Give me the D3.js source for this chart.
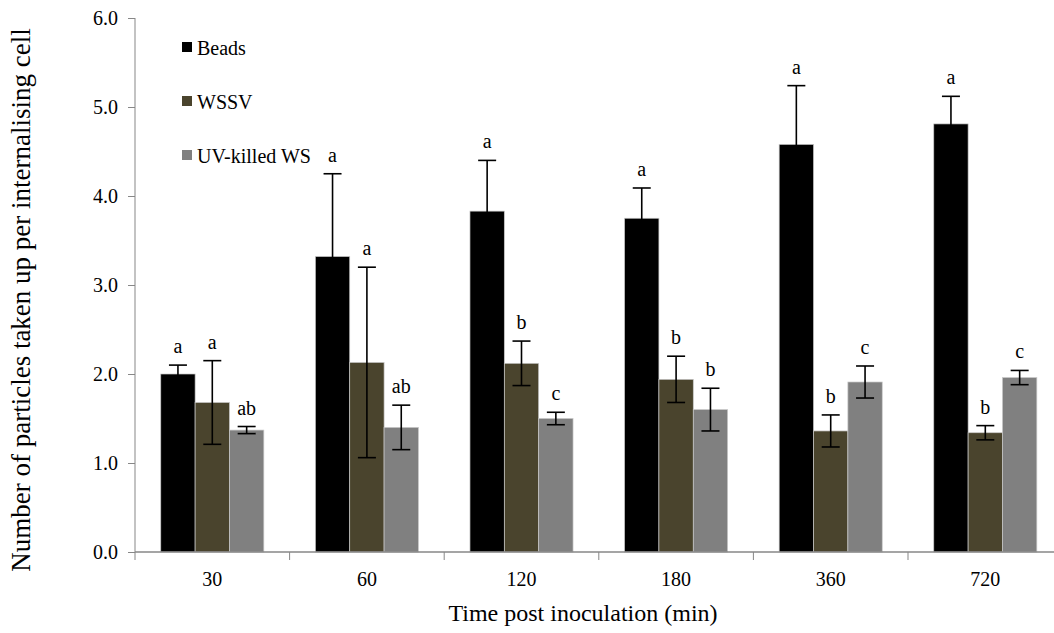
<!DOCTYPE html>
<html>
<head>
<meta charset="utf-8">
<script src="https://cdn.jsdelivr.net/npm/d3@7"></script>
<style>
  body { margin: 0; background: #fff; }
  svg { display: block; }
  svg text { font-family: "Liberation Serif", "Times New Roman", serif; fill: #000; }
  .axis path, .axis line { stroke: #878787; }
  .axis text { font-size: 20px; }
</style>
</head>
<body>
<div id="chart"></div>
<script>
// categories and series
var times = ["30", "60", "120", "180", "360", "720"];
var series = ["Beads", "WSSV", "UV-killed WS"];
var colors = ["#000000", "#4a442d", "#808080"];

// mean values
var beads = [2.00, 3.32, 3.83, 3.75, 4.58, 4.81];
var wssv  = [1.68, 2.13, 2.12, 1.94, 1.36, 1.34];
var uvws  = [1.37, 1.40, 1.50, 1.60, 1.91, 1.96];

// error bar half-widths
var beadsErr = [0.10, 0.93, 0.57, 0.34, 0.66, 0.31];
var wssvErr  = [0.47, 1.07, 0.25, 0.26, 0.18, 0.08];
var uvwsErr  = [0.04, 0.25, 0.07, 0.24, 0.18, 0.08];

// significance letters
var beadsSig = ["a", "a", "a", "a", "a", "a"];
var wssvSig  = ["a", "a", "b", "b", "b", "b"];
var uvwsSig  = ["ab", "ab", "c", "b", "c", "c"];

var yTicks = [0, 1, 2, 3, 4, 5, 6];

var values = [beads, wssv, uvws];
var errs = [beadsErr, wssvErr, uvwsErr];
var sigs = [beadsSig, wssvSig, uvwsSig];

var data = [];
times.forEach(function(t, i) {
    series.forEach(function(s, j) {
        data.push({ time: t, series: s, k: j, v: values[j][i], e: errs[j][i], sig: sigs[j][i] });
    });
});

var margin = {top: 18, left: 135},
    W = 1054, H = 633,
    width = 927.6,
    height = 534;

var svg = d3.select("#chart").append("svg")
    .attr("width", W)
    .attr("height", H);

var g = svg.append("g")
    .attr("transform", "translate(" + margin.left + "," + margin.top + ")");

var x0 = d3.scaleBand().domain(times).range([0, width]).padding(0);
var gap = x0.bandwidth() / 6;
var x1 = d3.scaleBand().domain(series).range([gap, x0.bandwidth() - gap]).padding(0);
var y = d3.scaleLinear().domain([0, 6]).range([height, 0]);

// y axis
g.append("g")
    .attr("class", "axis")
    .call(d3.axisLeft(y).tickValues(yTicks).tickFormat(d3.format(".1f")).tickSize(7).tickPadding(10))
    .call(function(a) {
        a.attr("font-family", null).attr("font-size", null);
        a.select(".domain").attr("d", "M0," + height + "V0");
    });

// bars
g.selectAll(".bar")
    .data(data)
    .enter().append("rect")
    .attr("class", "bar")
    .attr("x", function(d) { return x0(d.time) + x1(d.series); })
    .attr("y", function(d) { return y(d.v); })
    .attr("width", x1.bandwidth())
    .attr("height", function(d) { return height - y(d.v); })
    .attr("fill", function(d) { return colors[d.k]; })
    .attr("stroke", "#c8c8c8")
    .attr("stroke-width", 0.7);

// x axis
var xa = g.append("g")
    .attr("class", "axis")
    .attr("transform", "translate(0," + height + ")");
xa.call(d3.axisBottom(x0).tickSize(0).tickPadding(20))
    .call(function(a) {
        a.attr("font-family", null).attr("font-size", null);
        a.select(".domain").remove();
    });
xa.append("line")
    .attr("x1", 0).attr("x2", width)
    .attr("stroke", "#878787").attr("stroke-width", 1.5);
xa.selectAll(".bound")
    .data(times.concat(["end"]))
    .enter().append("line")
    .attr("class", "bound")
    .attr("x1", function(d, i) { return i * x0.step(); })
    .attr("x2", function(d, i) { return i * x0.step(); })
    .attr("y1", 0).attr("y2", 8);

// error bars
var cap = 9;
var eb = g.selectAll(".err")
    .data(data)
    .enter().append("g")
    .attr("class", "err")
    .attr("transform", function(d) { return "translate(" + (x0(d.time) + x1(d.series) + x1.bandwidth() / 2) + ",0)"; })
    .attr("stroke", "#000")
    .attr("stroke-width", 1.6);
eb.append("line")
    .attr("y1", function(d) { return y(d.v - d.e); })
    .attr("y2", function(d) { return y(d.v + d.e); });
eb.append("line")
    .attr("x1", -cap).attr("x2", cap)
    .attr("y1", function(d) { return y(d.v + d.e); })
    .attr("y2", function(d) { return y(d.v + d.e); });
eb.append("line")
    .attr("x1", -cap).attr("x2", cap)
    .attr("y1", function(d) { return y(d.v - d.e); })
    .attr("y2", function(d) { return y(d.v - d.e); });

// significance letters
g.selectAll(".sig")
    .data(data)
    .enter().append("text")
    .attr("class", "sig")
    .attr("x", function(d) { return x0(d.time) + x1(d.series) + x1.bandwidth() / 2; })
    .attr("y", function(d) { return y(d.v + d.e) - 12; })
    .attr("text-anchor", "middle")
    .style("font-size", "20px")
    .text(function(d) { return d.sig; });

// legend
var lg = svg.append("g").attr("transform", "translate(182,0)");
series.forEach(function(s, j) {
    var yy = 55 + j * 54;
    lg.append("rect")
        .attr("x", 0).attr("y", yy - 13)
        .attr("width", 10).attr("height", 10)
        .attr("fill", colors[j]);
    lg.append("text")
        .attr("x", 15).attr("y", yy)
        .style("font-size", "20px")
        .text(s);
});

// axis titles
svg.append("text")
    .attr("x", 583)
    .attr("y", 621)
    .attr("text-anchor", "middle")
    .style("font-size", "24px")
    .text("Time post inoculation (min)");

svg.append("text")
    .attr("transform", "translate(30," + 300 + ") rotate(-90)")
    .attr("text-anchor", "middle")
    .style("font-size", "27px")
    .text("Number of particles taken up per internalising cell");
</script>
</body>
</html>
